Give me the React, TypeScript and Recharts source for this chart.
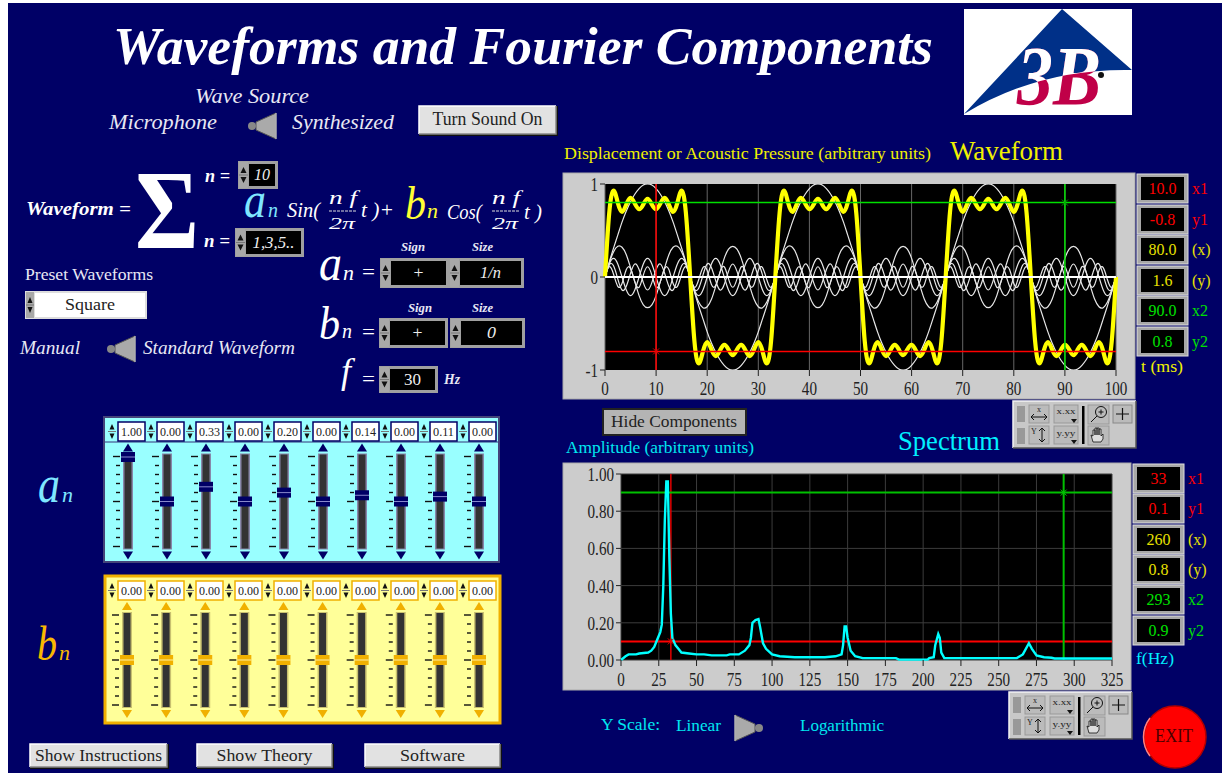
import { CartesianGrid, Line, LineChart, ReferenceDot, ReferenceLine, Scatter, ScatterChart, XAxis, YAxis } from "recharts"

// time base of the waveform plot (ms)
const timeMs = [
  0, 0.83, 1.67, 2.5, 3.33, 4.17, 5, 5.83, 6.67, 7.5, 8.33, 9.17, 10, 10.83, 11.67, 12.5, 13.33, 14.17, 15, 15.83,
  16.67, 17.5, 18.33, 19.17, 20, 20.83, 21.67, 22.5, 23.33, 24.17, 25, 25.83, 26.67, 27.5, 28.33, 29.17, 30, 30.83, 31.67, 32.5,
  33.33, 34.17, 35, 35.83, 36.67, 37.5, 38.33, 39.17, 40, 40.83, 41.67, 42.5, 43.33, 44.17, 45, 45.83, 46.67, 47.5, 48.33, 49.17,
  50, 50.83, 51.67, 52.5, 53.33, 54.17, 55, 55.83, 56.67, 57.5, 58.33, 59.17, 60, 60.83, 61.67, 62.5, 63.33, 64.17, 65, 65.83,
  66.67, 67.5, 68.33, 69.17, 70, 70.83, 71.67, 72.5, 73.33, 74.17, 75, 75.83, 76.67, 77.5, 78.33, 79.17, 80, 80.83, 81.67, 82.5,
  83.33, 84.17, 85, 85.83, 86.67, 87.5, 88.33, 89.17, 90, 90.83, 91.67, 92.5, 93.33, 94.17, 95, 95.83, 96.67, 97.5, 98.33, 99.17,
  100,
]
const harmonic1 = [
  0, .16, .31, .45, .59, .71, .81, .89, .95, .99, 1, .99, .95, .89, .81, .71, .59, .45, .31, .16, 0, -.16, -.31, -.45, -.59, -.71, -.81, -.89, -.95, -.99, -1, -.99, -.95, -.89, -.81, -.71, -.59, -.45, -.31, -.16,
  0, .16, .31, .45, .59, .71, .81, .89, .95, .99, 1, .99, .95, .89, .81, .71, .59, .45, .31, .16, 0, -.16, -.31, -.45, -.59, -.71, -.81, -.89, -.95, -.99, -1, -.99, -.95, -.89, -.81, -.71, -.59, -.45, -.31, -.16,
  0, .16, .31, .45, .59, .71, .81, .89, .95, .99, 1, .99, .95, .89, .81, .71, .59, .45, .31, .16, 0, -.16, -.31, -.45, -.59, -.71, -.81, -.89, -.95, -.99, -1, -.99, -.95, -.89, -.81, -.71, -.59, -.45, -.31, -.16,
  0,
]
const harmonic3 = [
  0, .15, .27, .33, .32, .24, .1, -.05, -.2, -.3, -.33, -.3, -.2, -.05, .1, .24, .32, .33, .27, .15, 0, -.15, -.27, -.33, -.32, -.24, -.1, .05, .2, .3, .33, .3, .2, .05, -.1, -.24, -.32, -.33, -.27, -.15,
  0, .15, .27, .33, .32, .24, .1, -.05, -.2, -.3, -.33, -.3, -.2, -.05, .1, .24, .32, .33, .27, .15, 0, -.15, -.27, -.33, -.32, -.24, -.1, .05, .2, .3, .33, .3, .2, .05, -.1, -.24, -.32, -.33, -.27, -.15,
  0, .15, .27, .33, .32, .24, .1, -.05, -.2, -.3, -.33, -.3, -.2, -.05, .1, .24, .32, .33, .27, .15, 0, -.15, -.27, -.33, -.32, -.24, -.1, .05, .2, .3, .33, .3, .2, .05, -.1, -.24, -.32, -.33, -.27, -.15,
  0,
]
const harmonic5 = [
  0, .14, .2, .14, 0, -.14, -.2, -.14, 0, .14, .2, .14, 0, -.14, -.2, -.14, 0, .14, .2, .14, 0, -.14, -.2, -.14, 0, .14, .2, .14, 0, -.14, -.2, -.14, 0, .14, .2, .14, 0, -.14, -.2, -.14,
  0, .14, .2, .14, 0, -.14, -.2, -.14, 0, .14, .2, .14, 0, -.14, -.2, -.14, 0, .14, .2, .14, 0, -.14, -.2, -.14, 0, .14, .2, .14, 0, -.14, -.2, -.14, 0, .14, .2, .14, 0, -.14, -.2, -.14,
  0, .14, .2, .14, 0, -.14, -.2, -.14, 0, .14, .2, .14, 0, -.14, -.2, -.14, 0, .14, .2, .14, 0, -.14, -.2, -.14, 0, .14, .2, .14, 0, -.14, -.2, -.14, 0, .14, .2, .14, 0, -.14, -.2, -.14,
  0,
]
const harmonic7 = [
  0, .13, .12, -.02, -.14, -.1, .04, .14, .08, -.06, -.14, -.06, .08, .14, .04, -.1, -.14, -.02, .12, .13, 0, -.13, -.12, .02, .14, .1, -.04, -.14, -.08, .06, .14, .06, -.08, -.14, -.04, .1, .14, .02, -.12, -.13,
  0, .13, .12, -.02, -.14, -.1, .04, .14, .08, -.06, -.14, -.06, .08, .14, .04, -.1, -.14, -.02, .12, .13, 0, -.13, -.12, .02, .14, .1, -.04, -.14, -.08, .06, .14, .06, -.08, -.14, -.04, .1, .14, .02, -.12, -.13,
  0, .13, .12, -.02, -.14, -.1, .04, .14, .08, -.06, -.14, -.06, .08, .14, .04, -.1, -.14, -.02, .12, .13, 0, -.13, -.12, .02, .14, .1, -.04, -.14, -.08, .06, .14, .06, -.08, -.14, -.04, .1, .14, .02, -.12, -.13,
  0,
]
const harmonic9 = [
  0, .11, .03, -.1, -.07, .08, .09, -.05, -.11, .02, .11, .02, -.11, -.05, .09, .08, -.07, -.1, .03, .11, 0, -.11, -.03, .1, .07, -.08, -.09, .05, .11, -.02, -.11, -.02, .11, .05, -.09, -.08, .07, .1, -.03, -.11,
  0, .11, .03, -.1, -.07, .08, .09, -.05, -.11, .02, .11, .02, -.11, -.05, .09, .08, -.07, -.1, .03, .11, 0, -.11, -.03, .1, .07, -.08, -.09, .05, .11, -.02, -.11, -.02, .11, .05, -.09, -.08, .07, .1, -.03, -.11,
  0, .11, .03, -.1, -.07, .08, .09, -.05, -.11, .02, .11, .02, -.11, -.05, .09, .08, -.07, -.1, .03, .11, 0, -.11, -.03, .1, .07, -.08, -.09, .05, .11, -.02, -.11, -.02, .11, .05, -.09, -.08, .07, .1, -.03, -.11,
  0,
]
const waveSum = [
  0, .69, .93, .8, .7, .78, .85, .79, .73, .78, .84, .78, .73, .79, .85, .78, .7, .8, .93, .69, 0, -.69, -.93, -.8, -.7, -.78, -.85, -.79, -.73, -.78, -.84, -.78, -.73, -.79, -.85, -.78, -.7, -.8, -.93, -.69,
  0, .69, .93, .8, .7, .78, .85, .79, .73, .78, .84, .78, .73, .79, .85, .78, .7, .8, .93, .69, 0, -.69, -.93, -.8, -.7, -.78, -.85, -.79, -.73, -.78, -.84, -.78, -.73, -.79, -.85, -.78, -.7, -.8, -.93, -.69,
  0, .69, .93, .8, .7, .78, .85, .79, .73, .78, .84, .78, .73, .79, .85, .78, .7, .8, .93, .69, 0, -.69, -.93, -.8, -.7, -.78, -.85, -.79, -.73, -.78, -.84, -.78, -.73, -.79, -.85, -.78, -.7, -.8, -.93, -.69,
  0,
]
const waveTicksX = [0, 10, 20, 30, 40, 50, 60, 70, 80, 90, 100]
const waveTicksY = [-1, 0, 1]

const freqHz = [
  0, 3, 5, 10, 12, 18, 20, 22, 24, 26, 27, 28, 29, 30, 31, 32, 33, 34, 36, 38, 40, 45, 50, 55, 60, 70, 72, 78, 82, 85, 86, 87, 89, 91, 92, 94, 96, 100, 105, 115,
  135, 142, 146, 147, 148, 149, 150, 152, 155, 160, 182, 184, 203, 204, 207, 208, 210, 211, 212, 214, 262, 266, 270, 272, 275, 280, 285, 287, 325,
]
const amplitude = [
  0, .02, .03, .03, .035, .04, .05, .07, .11, .15, .19, .4, .75, .96, .96, .55, .25, .12, .08, .06, .04, .035, .03, .03, .025, .025, .03, .03, .05, .08, .12, .2, .215, .22, .18, .09, .06, .03, .02, .015,
  .015, .02, .03, .08, .18, .18, .12, .05, .02, .01, .01, .002, .002, .01, .015, .08, .14, .12, .04, .01, .01, .03, .09, .06, .025, .015, .012, .008, .008,
]
const specTicksX = [0, 25, 50, 75, 100, 125, 150, 175, 200, 225, 250, 275, 300, 325]
const specTicksY = [0, 0.2, 0.4, 0.6, 0.8, 1]

const slots = [0, 1, 2, 3, 4, 5, 6, 7, 8, 9]
const aValues = [1, 0, 0.33, 0, 0.2, 0, 0.14, 0, 0.11, 0]
const bValues = [0, 0, 0, 0, 0, 0, 0, 0, 0, 0]

const waveReadouts = ["10.0", "-0.8", "80.0", "1.6", "90.0", "0.8"]
const specReadouts = ["33", "0.1", "260", "0.8", "293", "0.9"]
const readoutNames = ["x1", "y1", "(x)", "(y)", "x2", "y2"]
const readoutColors = ["#ff0000", "#ff0000", "#e8e000", "#e8e000", "#00e000", "#00e000"]

const waveRows = timeMs.map((t, i) => ({
  t,
  h1: harmonic1[i],
  h3: harmonic3[i],
  h5: harmonic5[i],
  h7: harmonic7[i],
  h9: harmonic9[i],
  sum: waveSum[i],
}))
const specRows = freqHz.map((f, i) => ({ f, a: amplitude[i] }))
const aRows = slots.map((slot, i) => ({ slot, value: aValues[i] }))
const bRows = slots.map((slot, i) => ({ slot, value: bValues[i] }))
const trackRows = slots.map((slot) => ({ slot, value: 0 }))

const NAVY = "#000066"
const GREY = "#cccccc"
const SERIF = "'Liberation Serif', serif"
const LOGO_BLUE = "M1062 9L1132 70Q1040 68 964 114Z"

function T({ x, y, w, size, color = "#fff", italic, bold, anchor, children }: any) {
  return (
    <text
      x={x}
      y={y}
      textLength={w}
      lengthAdjust={w ? "spacingAndGlyphs" : undefined}
      fontSize={size}
      fill={color}
      fontStyle={italic ? "italic" : undefined}
      fontWeight={bold ? "bold" : undefined}
      textAnchor={anchor}
      fontFamily={SERIF}
    >
      {children}
    </text>
  )
}

function Bevel({ x, y, w, h, fill = GREY, light = "#f4f4f4", dark = "#555" }: any) {
  return (
    <g>
      <rect x={x} y={y} width={w} height={h} fill={fill} />
      <path d={`M${x} ${y + h}V${y}H${x + w}`} fill="none" stroke={light} strokeWidth={1.5} />
      <path d={`M${x} ${y + h}H${x + w}V${y}`} fill="none" stroke={dark} strokeWidth={1.5} />
    </g>
  )
}

function Button({ x, y, w, h, label, tw, size = 18 }: any) {
  return (
    <g>
      <rect x={x} y={y} width={w + 2} height={h + 2} fill="#111" />
      <Bevel x={x} y={y} w={w} h={h} fill="#e2e2e2" light="#fff" dark="#888" />
      <T x={x + w / 2 - tw / 2} y={y + h / 2 + size * 0.3} w={tw} size={size} color="#222">
        {label}
      </T>
    </g>
  )
}

// up/down arrows column of a LabVIEW numeric control
function Arrows({ x, y, w, h, color = "#111", fill = "#a8a8a8" }: any) {
  const mid = y + h / 2
  return (
    <g>
      <rect x={x} y={y} width={w} height={h} fill={fill} />
      <line x1={x} x2={x + w} y1={mid} y2={mid} stroke="#777" />
      <path d={`M${x + 1.5} ${mid - 2}h${w - 3}l${-(w - 3) / 2} ${-Math.min(h / 2 - 4, 6)}z`} fill={color} />
      <path d={`M${x + 1.5} ${mid + 2}h${w - 3}l${-(w - 3) / 2} ${Math.min(h / 2 - 4, 6)}z`} fill={color} />
    </g>
  )
}

function DarkSpinner({ x, y, w, h, text, tw, italic = true, size = 17 }: any) {
  return (
    <g>
      <rect x={x} y={y} width={w} height={h} fill="#a0a0a0" />
      <Arrows x={x + 1} y={y + 1} w={9} h={h - 2} />
      <rect x={x + 11} y={y + 3} width={w - 14} height={h - 6} fill="#000" />
      <T x={x + 11 + (w - 14) / 2 - tw / 2} y={y + h / 2 + size * 0.3} w={tw} size={size} italic={italic} color="#eee">
        {text}
      </T>
    </g>
  )
}

function Toggle({ x, y, flip }: any) {
  return (
    <g transform={flip ? `translate(${x + 30} ${y}) scale(-1 1)` : `translate(${x} ${y})`}>
      <path d="M30 0L30 26L10 17L10 9Z" fill="#aaaaaa" stroke="#555" />
      <rect x={2} y={9} width={8} height={8} rx={4} fill="#888" />
      <path d="M30 0L30 26" stroke="#ddd" strokeWidth={1} />
    </g>
  )
}

function Toolbar({ x, y }: any) {
  return (
    <g>
      <Bevel x={x} y={y} w={123} h={47} fill="#c8c8c8" />
      <rect x={x + 4} y={y + 5} width={8} height={16} fill="#999" />
      <rect x={x + 4} y={y + 27} width={8} height={16} fill="#999" />
      <rect x={x + 16} y={y + 4} width={20} height={18} fill="#bbb" stroke="#999" />
      <rect x={x + 16} y={y + 25} width={20} height={18} fill="#bbb" stroke="#999" />
      <T x={x + 26} y={y + 11} size={8} color="#222" anchor="middle">x</T>
      <path d={`M${x + 18} ${y + 16}h16m-16 0l3-3m-3 3l3 3m13-3l-3-3m3 3l-3 3`} stroke="#111" fill="none" />
      <T x={x + 21} y={y + 33} size={8} color="#222" anchor="middle">Y</T>
      <path d={`M${x + 29} ${y + 27}v14m0-14l-3 3m3-3l3 3m-3 11l-3-3m3 3l3-3`} stroke="#111" fill="none" />
      <rect x={x + 41} y={y + 4} width={24} height={18} fill="#bbb" stroke="#999" />
      <rect x={x + 41} y={y + 25} width={24} height={18} fill="#bbb" stroke="#999" />
      <T x={x + 53} y={y + 13} size={9} color="#222" anchor="middle" w={19}>x.xx</T>
      <T x={x + 53} y={y + 35} size={9} color="#222" anchor="middle" w={19}>y.yy</T>
      <path d={`M${x + 58} ${y + 18}h6l-3 4zM${x + 58} ${y + 39}h6l-3 4z`} fill="#111" />
      <rect x={x + 69} y={y + 5} width={2.5} height={38} fill="#000" />
      <rect x={x + 75} y={y + 4} width={21} height={19} fill="#bbb" stroke="#999" />
      <circle cx={x + 88} cy={y + 11} r={5.5} fill="none" stroke="#111" />
      <path d={`M${x + 84} ${y + 15}l-6 6M${x + 85.5} ${y + 11}h5M${x + 88} ${y + 8.5}v5`} stroke="#111" fill="none" />
      <rect x={x + 75} y={y + 25} width={21} height={19} fill="#bbb" stroke="#999" />
      <path d={`M${x + 80} ${y + 41}l-2-7 2 1v-6h2v5v-7h2v7v-7h2v7v-6h2v7l2-2v5l-2 3z`} fill="#ddd" stroke="#111" strokeWidth={0.8} />
      <rect x={x + 100} y={y + 4} width={19} height={18} fill="#bbb" stroke="#888" />
      <path d={`M${x + 103} ${y + 13}h13M${x + 109.5} ${y + 7}v12`} stroke="#111" strokeWidth={1.2} />
    </g>
  )
}

function Readouts({ x, tops, values, w }: any) {
  return (
    <g>
      {values.map((v: string, i: number) => (
        <g key={i}>
          <rect x={x} y={tops[i]} width={w} height={29} fill="#a8a8a8" stroke="#ddd" />
          <rect x={x + 4} y={tops[i] + 3} width={w - 8} height={23} fill="#000" />
          <T x={x + w / 2} y={tops[i] + 20} size={16} color={readoutColors[i]} anchor="middle">
            {v}
          </T>
          <T x={x + w + 4} y={tops[i] + 20} size={16} color={readoutColors[i]}>
            {readoutNames[i]}
          </T>
        </g>
      ))}
    </g>
  )
}

function Fraction({ x, w }: any) {
  return (
    <g>
      <T x={x} y={204} size={18} italic w={w}>n f</T>
      <line x1={x} x2={x + w} y1={211} y2={211} stroke="#ddd" strokeDasharray="3 1" />
      <T x={x} y={229} size={16} italic w={w - 2}>2π</T>
    </g>
  )
}

// squeezed axis text, the panel font is narrower than Liberation Serif
function AxisTick({ x, y, payload, dy = 0, anchor = "middle", format }: any) {
  return (
    <text
      transform={`translate(${x} ${y + dy}) scale(0.84 1)`}
      fontSize={18}
      fontFamily={SERIF}
      fill="#222"
      textAnchor={anchor}
    >
      {format ? format(payload.value) : payload.value}
    </text>
  )
}

function CursorMark({ cx, cy, color }: any) {
  return <path d={`M${cx - 3} ${cy - 3}l6 6m0-6l-6 6`} stroke={color} fill="none" />
}

function TrackShape({ cx, cy, dark, arrow }: any) {
  const rows = [-5, -4, -3, -2, -1, 0, 1, 2, 3, 4, 5]
  return (
    <g>
      {rows.map((r) => (
        <line
          key={r}
          x1={r % 5 === 0 ? cx - 15 : cx - 12}
          x2={cx - 8}
          y1={cy + r * 9}
          y2={cy + r * 9}
          stroke="#111"
          strokeWidth={1.4}
        />
      ))}
      <rect x={cx - 5} y={cy - 48} width={10} height={96} fill={dark} />
      <rect x={cx - 3.5} y={cy - 47} width={7} height={94} fill="#333" />
      <path d={`M${cx - 5} ${cy - 50}h10l-5 -8z`} fill={arrow} />
      <path d={`M${cx - 5} ${cy + 50}h10l-5 8z`} fill={arrow} />
    </g>
  )
}

function ThumbShape({ cx, cy, fill, line }: any) {
  return (
    <g>
      <rect x={cx - 7} y={cy - 5} width={14} height={10} fill={fill} />
      <line x1={cx - 7} x2={cx + 7} y1={cy} y2={cy} stroke={line} />
    </g>
  )
}

function SliderChart({ left, top, width, height, margin, rows, dark, arrow, thumb, line }: any) {
  return (
    <div style={{ position: "absolute", left, top, width, height }}>
      <ScatterChart width={width} height={height} margin={margin}>
        <XAxis type="number" dataKey="slot" domain={[0, 9]} hide />
        <YAxis type="number" dataKey="value" domain={[-1, 1]} hide />
        <Scatter
          data={trackRows}
          isAnimationActive={false}
          shape={(p: any) => <TrackShape cx={p.cx} cy={p.cy} dark={dark} arrow={arrow} />}
        />
        <Scatter
          data={rows}
          isAnimationActive={false}
          shape={(p: any) => <ThumbShape cx={p.cx} cy={p.cy} fill={thumb} line={line} />}
        />
      </ScatterChart>
    </div>
  )
}

function ValueRow({ top, values, boxBorder, arrowBg, arrowColor }: any) {
  return (
    <g>
      {values.map((v: number, i: number) => {
        const x = 108 + i * 39
        return (
          <g key={i}>
            <Arrows x={x} y={top} w={8} h={19} fill={arrowBg} color={arrowColor} />
            <rect x={x + 10} y={top} width={27} height={19} fill="#fff" stroke={boxBorder} strokeWidth={1.5} />
            <T x={x + 23.5} y={top + 14} size={12.5} color="#222" anchor="middle" w={21}>
              {v.toFixed(2)}
            </T>
          </g>
        )
      })}
    </g>
  )
}

export default function App() {
  return (
    <div style={{ position: "absolute", left: 0, top: 0, width: 1222, height: 773, background: "#fff", overflow: "hidden" }}>
      <svg width={1222} height={773} style={{ position: "absolute", left: 0, top: 0 }}>
        <defs>
          <clipPath id="logoBlue">
            <path d={LOGO_BLUE} />
          </clipPath>
        </defs>
        <rect x={8} y={3} width={1214} height={770} fill={NAVY} />

        <T x={113} y={64} w={820} size={53} italic bold>Waveforms and Fourier Components</T>

        {/* logo */}
        <rect x={964} y={9} width={168} height={106} fill="#fff" />
        <path d={LOGO_BLUE} fill="#003088" />
        <text x={1017} y={105} fontSize={85} fontWeight="bold" fontStyle="italic" fontFamily={SERIF} fill="#c00048" textLength={84} lengthAdjust="spacingAndGlyphs">3B</text>
        <g clipPath="url(#logoBlue)">
          <text x={1017} y={105} fontSize={85} fontWeight="bold" fontStyle="italic" fontFamily={SERIF} fill="#fff" textLength={84} lengthAdjust="spacingAndGlyphs">3B</text>
        </g>
        <circle cx={1101} cy={75} r={3} fill="#111" />

        {/* wave source */}
        <T x={195} y={103} w={114} size={20} italic color="#e8e8f4">Wave Source</T>
        <T x={109} y={129} w={108} size={21} italic color="#e8e8f4">Microphone</T>
        <Toggle x={246} y={113} />
        <T x={292} y={129} w={102} size={21} italic color="#e8e8f4">Synthesized</T>
        <Button x={419} y={106} w={137} h={28} label="Turn Sound On" tw={110} />

        {/* formula */}
        <T x={26} y={215} w={105} size={19} italic bold>Waveform =</T>
        <text x={135} y={248} fontSize={112} fontWeight="bold" fontFamily={SERIF} fill="#fff" textLength={64} lengthAdjust="spacingAndGlyphs">Σ</text>
        <T x={205} y={182} w={25} size={18} italic bold>n =</T>
        <T x={204} y={247} w={26} size={18} italic bold>n =</T>
        <DarkSpinner x={238} y={161} w={40} h={28} text="10" tw={16} />
        <DarkSpinner x={235} y={228} w={69} h={29} text="1,3,5.." tw={42} />
        <T x={244} y={217} w={22} size={50} italic color="#7fe6ff">a</T>
        <T x={268} y={217} w={10} size={22} italic color="#7fe6ff">n</T>
        <T x={287} y={217} w={33} size={20} italic>Sin(</T>
        <Fraction x={329} w={28} />
        <T x={361} y={217} w={33} size={22} italic>t )+</T>
        <T x={405} y={219} w={21} size={46} italic color="#ffff33">b</T>
        <T x={427} y={218} w={11} size={22} italic color="#ffff33">n</T>
        <T x={447} y={219} w={35} size={20} italic>Cos(</T>
        <Fraction x={492} w={28} />
        <T x={524} y={219} w={18} size={22} italic>t )</T>

        {/* presets */}
        <T x={25} y={280} w={128} size={17} color="#e8e8f4">Preset Waveforms</T>
        <rect x={25} y={291} width={122} height={28} fill="#ddd" />
        <Arrows x={26} y={292} w={8} h={26} />
        <rect x={35} y={293} width={110} height={24} fill="#fff" />
        <T x={90} y={310} w={50} size={17} color="#222" anchor="middle">Square</T>
        <T x={20} y={354} w={60} size={19} italic color="#e8e8f4">Manual</T>
        <Toggle x={105} y={336} />
        <T x={143} y={354} w={152} size={19} italic color="#e8e8f4">Standard Waveform</T>

        {/* coefficient rules */}
        <T x={319} y={280} w={23} size={50} italic>a</T>
        <T x={343} y={280} w={11} size={21} italic>n</T>
        <T x={362} y={279} w={13} size={22}>=</T>
        <T x={401} y={251} w={24} size={12} italic bold color="#e8e8f4">Sign</T>
        <T x={472} y={251} w={21} size={12} italic bold color="#e8e8f4">Size</T>
        <DarkSpinner x={380} y={258} w={69} h={30} text="+" tw={10} italic={false} />
        <DarkSpinner x={449} y={258} w={75} h={30} text="1/n" tw={21} />
        <T x={319} y={339} w={21} size={46} italic>b</T>
        <T x={342} y={338} w={10} size={21} italic>n</T>
        <T x={362} y={339} w={13} size={22}>=</T>
        <T x={408} y={312} w={24} size={12} italic bold color="#e8e8f4">Sign</T>
        <T x={472} y={312} w={21} size={12} italic bold color="#e8e8f4">Size</T>
        <DarkSpinner x={379} y={318} w={69} h={30} text="+" tw={10} italic={false} />
        <DarkSpinner x={450} y={318} w={75} h={30} text="0" tw={9} />
        <T x={341} y={383} size={36} italic>f</T>
        <T x={362} y={386} w={13} size={22}>=</T>
        <DarkSpinner x={379} y={366} w={59} h={27} text="30" tw={17} italic={false} />
        <T x={444} y={384} w={16} size={14} italic bold color="#e8e8f4">Hz</T>

        {/* slider panels */}
        <rect x={104} y={417} width={395} height={145} fill="#99ffff" stroke="#44447a" strokeWidth={2} />
        <rect x={105} y={420} width={393} height={23} fill="#99ffff" />
        <line x1={105} x2={498} y1={442} y2={442} stroke="#33337a" />
        <ValueRow top={422} values={aValues} boxBorder="#000066" arrowBg="#99ffff" arrowColor="#111" />
        <rect x={105} y={576} width={395} height={147} fill="#ffff99" stroke="#f0b000" strokeWidth={3} />
        <ValueRow top={581} values={bValues} boxBorder="#f0b000" arrowBg="#ffff99" arrowColor="#111" />
        <T x={38} y={502} w={22} size={52} italic color="#7fe6ff">a</T>
        <T x={62} y={502} w={11} size={22} italic color="#7fe6ff">n</T>
        <T x={37} y={660} w={20} size={49} italic color="#f8b800">b</T>
        <T x={59} y={660} w={11} size={22} italic color="#f8b800">n</T>

        <Button x={30} y={744} w={137} h={23} label="Show Instructions" tw={127} size={17} />
        <Button x={197} y={744} w={135} h={23} label="Show Theory" tw={96} size={17} />
        <Button x={365} y={744} w={135} h={23} label="Software" tw={65} size={17} />

        {/* waveform furniture */}
        <T x={564} y={159} w={367} size={17} color="#f0f000">Displacement or Acoustic Pressure (arbitrary units)</T>
        <T x={950} y={160} w={113} size={27} color="#f0f000">Waveform</T>
        <rect x={563} y={173} width={572} height={226} fill={GREY} stroke="#aaa" />
        <Readouts x={1137} w={51} tops={[174, 205, 235, 266, 296, 327]} values={waveReadouts} />
        <T x={1141} y={372} w={42} size={17} color="#f0f000">t (ms)</T>
        <rect x={602} y={408} width={145} height={28} fill="#222" />
        <rect x={604} y={410} width={141} height={24} fill="#b4b4b4" />
        <T x={611} y={427} w={126} size={17} color="#222">Hide Components</T>
        <Toolbar x={1013} y={401} />

        {/* spectrum furniture */}
        <T x={566} y={453} w={188} size={17} color="#00e8f0">Amplitude (arbitrary units)</T>
        <T x={898} y={450} w={102} size={27} color="#00f0ff">Spectrum</T>
        <rect x={563} y={463} width={568} height={227} fill={GREY} stroke="#aaa" />
        <Readouts x={1133} w={51} tops={[464, 494, 525, 555, 585, 616]} values={specReadouts} />
        <T x={1136} y={664} w={38} size={17} color="#00f0ff">f(Hz)</T>
        <Toolbar x={1009} y={692} />
        <T x={601} y={730} w={59} size={16} color="#00e8f0">Y Scale:</T>
        <T x={676} y={731} w={45} size={16} color="#00e8f0">Linear</T>
        <Toggle x={735} y={715} flip />
        <T x={800} y={731} w={84} size={16} color="#00e8f0">Logarithmic</T>

        <circle cx={1175} cy={737} r={31} fill="#ff0000" stroke="#b00000" strokeWidth={1.5} />
        <path d="M1150 718A31 31 0 0 0 1150 756" fill="none" stroke="#ff8080" strokeWidth={1.5} />
        <T x={1155} y={742} w={38} size={18} color="#4a0000">EXIT</T>
      </svg>

      <SliderChart
        left={104} top={417} width={395} height={145}
        margin={{ top: 40, right: 20, bottom: 16, left: 24 }}
        rows={aRows} dark="#8888aa" arrow="#000066" thumb="#000066" line="#8888cc"
      />
      <SliderChart
        left={104} top={575} width={397} height={149}
        margin={{ top: 38, right: 22, bottom: 17, left: 23 }}
        rows={bRows} dark="#c8c070" arrow="#f0b000" thumb="#f0b000" line="#fff0a0"
      />

      <div style={{ position: "absolute", left: 563, top: 173 }}>
        <LineChart width={572} height={226} data={waveRows} margin={{ top: 11, right: 19, bottom: 0, left: 0 }}>
          <CartesianGrid horizontal={false} stroke="#666" fill="#000" fillOpacity={1} />
          <XAxis
            dataKey="t"
            type="number"
            domain={[0, 100]}
            ticks={waveTicksX}
            height={29}
            interval={0}
            axisLine={false}
            tickSize={6}
            stroke="#222"
            tick={<AxisTick dy={17} />}
          />
          <YAxis
            type="number"
            domain={[-1, 1]}
            ticks={waveTicksY}
            width={42}
            allowDataOverflow
            axisLine={false}
            tickSize={5}
            stroke="#222"
            tick={<AxisTick anchor="end" dy={7} />}
          />
          <Line dataKey="h1" type="natural" stroke="#e8e8e8" strokeWidth={1.2} dot={false} isAnimationActive={false} />
          <Line dataKey="h3" type="natural" stroke="#e8e8e8" strokeWidth={1.2} dot={false} isAnimationActive={false} />
          <Line dataKey="h5" type="natural" stroke="#e8e8e8" strokeWidth={1.2} dot={false} isAnimationActive={false} />
          <Line dataKey="h7" type="natural" stroke="#e8e8e8" strokeWidth={1.2} dot={false} isAnimationActive={false} />
          <Line dataKey="h9" type="natural" stroke="#e8e8e8" strokeWidth={1.2} dot={false} isAnimationActive={false} />
          <Line dataKey="sum" type="natural" stroke="#ffff00" strokeWidth={4.2} dot={false} isAnimationActive={false} />
          <ReferenceLine y={0} stroke="#fff" strokeWidth={2} />
          <ReferenceLine x={10} stroke="#ff0000" strokeWidth={1.5} />
          <ReferenceLine y={-0.8} stroke="#ff0000" strokeWidth={1.5} />
          <ReferenceLine x={90} stroke="#00e000" strokeWidth={1.5} />
          <ReferenceLine y={0.8} stroke="#00e000" strokeWidth={1.5} />
          <ReferenceDot x={10} y={-0.8} shape={(p: any) => <CursorMark cx={p.cx} cy={p.cy} color="#e00000" />} />
          <ReferenceDot x={90} y={0.8} shape={(p: any) => <CursorMark cx={p.cx} cy={p.cy} color="#00a000" />} />
        </LineChart>
      </div>

      <div style={{ position: "absolute", left: 563, top: 463 }}>
        <LineChart width={568} height={227} data={specRows} margin={{ top: 11, right: 19, bottom: 0, left: 0 }}>
          <CartesianGrid stroke="#3c3c3c" fill="#000" fillOpacity={1} />
          <XAxis
            dataKey="f"
            type="number"
            domain={[0, 325]}
            ticks={specTicksX}
            height={30}
            interval={0}
            axisLine={false}
            tickSize={6}
            stroke="#222"
            tick={<AxisTick dy={18} />}
          />
          <YAxis
            type="number"
            domain={[0, 1]}
            ticks={specTicksY}
            width={58}
            axisLine={false}
            tickSize={5}
            stroke="#222"
            tick={<AxisTick anchor="end" dy={7} format={(v: number) => v.toFixed(2)} />}
          />
          <ReferenceLine x={33} stroke="#e00000" strokeWidth={1.5} />
          <ReferenceLine y={0.1} stroke="#ff0000" strokeWidth={2} />
          <ReferenceLine x={293} stroke="#00c000" strokeWidth={2} />
          <ReferenceLine y={0.9} stroke="#00c000" strokeWidth={2} />
          <Line dataKey="a" type="linear" stroke="#00ffff" strokeWidth={2.4} dot={false} isAnimationActive={false} />
          <ReferenceDot x={33} y={0.1} shape={(p: any) => <CursorMark cx={p.cx} cy={p.cy} color="#e00000" />} />
          <ReferenceDot x={293} y={0.9} shape={(p: any) => <CursorMark cx={p.cx} cy={p.cy} color="#00c000" />} />
        </LineChart>
      </div>
    </div>
  )
}
